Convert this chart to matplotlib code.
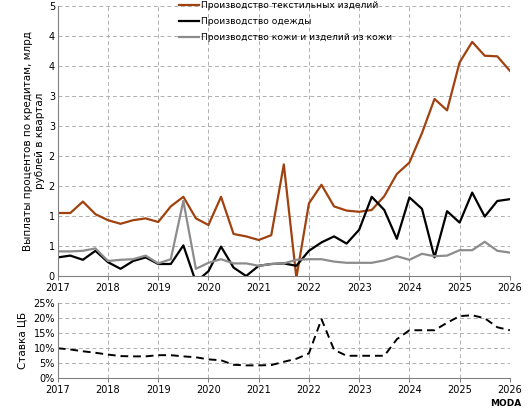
import math
import numpy as np
import matplotlib.pyplot as plt
from matplotlib.ticker import FuncFormatter

# quarterly data, 2017Q1 .. 2026Q1
quarters = 2017 + np.arange(37) * 0.25

textile = [1.05, 1.05, 1.24, 1.03, 0.93, 0.87, 0.93, 0.96, 0.90, 1.16,
           1.32, 0.96, 0.85, 1.32, 0.70, 0.66, 0.60, 0.68, 1.86, -0.03,
           1.21, 1.52, 1.16, 1.09, 1.07, 1.10, 1.33, 1.70, 1.89, 2.38,
           2.95, 2.76, 3.56, 3.90, 3.67, 3.66, 3.42]
clothing = [0.31, 0.34, 0.27, 0.42, 0.23, 0.12, 0.25, 0.31, 0.20, 0.20,
            0.51, -0.10, 0.08, 0.49, 0.14, 0.00, 0.17, 0.20, 0.21, 0.17,
            0.42, 0.56, 0.66, 0.54, 0.77, 1.32, 1.10, 0.62, 1.31, 1.12,
            0.31, 1.08, 0.89, 1.39, 0.99, 1.25, 1.28]
leather = [0.41, 0.41, 0.42, 0.46, 0.25, 0.27, 0.28, 0.34, 0.21, 0.28,
           1.25, 0.12, 0.22, 0.28, 0.21, 0.21, 0.17, 0.20, 0.21, 0.27,
           0.28, 0.28, 0.24, 0.22, 0.22, 0.22, 0.26, 0.33, 0.27, 0.37,
           0.33, 0.34, 0.43, 0.43, 0.57, 0.42, 0.39]
key_rate = [10.0, 9.6, 9.0, 8.5, 7.9, 7.4, 7.3, 7.3, 7.7, 7.7,
            7.3, 7.0, 6.3, 6.0, 4.5, 4.3, 4.3, 4.4, 5.5, 6.5,
            8.3, 19.7, 9.5, 7.5, 7.5, 7.5, 7.5, 13.0, 16.0, 16.0,
            16.0, 18.5, 20.7, 21.0, 20.0, 17.0, 16.0]

years = list(range(2017, 2027))
labels = ["Производство текстильных изделий",
          "Производство одежды",
          "Производство кожи и изделий из кожи"]
colors = ["#A0420F", "black", "#8C8C8C"]

plt.rcParams['font.family'] = ['DejaVu Sans']
grid_kw = dict(color='#b0b0b0', linestyle=(0, (4, 3)), linewidth=0.7)

fig = plt.figure(figsize=(5.3, 4.08), dpi=100)
ax = fig.add_axes([0.109, 0.3235, 0.853, 0.662])
ax2 = fig.add_axes([0.109, 0.0728, 0.853, 0.184])

for series, lab, col in zip([textile, clothing, leather], labels, colors):
    ax.plot(quarters, series, color=col, linewidth=1.6, label=lab)

ax.set_xlim(2017, 2026)
ax.set_ylim(0, 4.5)
ax.set_yticks(np.arange(0, 4.51, 0.5))
ax.yaxis.set_major_formatter(FuncFormatter(lambda v, p: str(int(math.floor(v + 0.5 + 1e-9)))))
ax.set_xticks(years)
ax.set_ylabel("Выплаты процентов по кредитам, млрд\nрублей в квартал", fontsize=7.5, labelpad=3)
leg = ax.legend(loc='upper left', bbox_to_anchor=(0.26, 1.03), frameon=False, fontsize=6.6,
                handlelength=2.2, handletextpad=0.2, labelspacing=0.75, borderaxespad=0)

ax2.plot(quarters, key_rate, color='black', linewidth=1.4, linestyle=(0, (4, 2.5)))
ax2.set_xlim(2017, 2026)
ax2.set_ylim(0, 25)
ax2.set_yticks(range(0, 26, 5))
ax2.yaxis.set_major_formatter(FuncFormatter(lambda v, p: f"{int(v)}%"))
ax2.set_xticks(years)
ax2.set_ylabel("Ставка ЦБ", fontsize=7.5, labelpad=4)

for a in (ax, ax2):
    a.grid(True, **grid_kw)
    a.set_axisbelow(True)
    for s in ('top', 'right'):
        a.spines[s].set_visible(False)
    for s in ('left', 'bottom'):
        a.spines[s].set_color('#808080')
        a.spines[s].set_linewidth(0.8)
    a.tick_params(axis='both', labelsize=7, color='#808080', length=3, width=0.7, pad=2)
    a.tick_params(axis='y', length=0)

fig.text(0.983, 0.0, "MODA", fontsize=6.5, fontweight='bold', ha='right', va='bottom')

fig.savefig("out.png", dpi=100)
